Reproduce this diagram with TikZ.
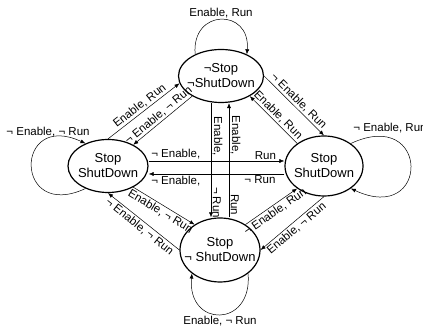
\documentclass[tikz,border=0pt]{standalone}
\usepackage{fontspec}
\setmainfont{Liberation Sans}
\usetikzlibrary{arrows.meta}
\usetikzlibrary{shapes.geometric}
\tikzset{>={Latex[length=5pt,width=4pt]}}
\tikzset{state/.style={ellipse,draw,line width=1.2pt,inner sep=0pt},
  statetext/.style={align=center,font=\fontsize{13}{15}\selectfont},
  lbl/.style={font=\fontsize{11.5}{13}\selectfont,inner sep=1.5pt},
  vlbl/.style={lbl,rotate=-90,anchor=south}}

\begin{document}
\begin{tikzpicture}[x=1pt,y=1pt,line width=0.5pt]
\useasboundingbox (0,0) rectangle (423,326);

\node (T) at (221,250) [state,minimum width=85pt,minimum height=53pt,label={[statetext]center:{¬Stop\\¬ShutDown}}] {};
\node (L) at (108,160) [state,minimum width=80pt,minimum height=53pt,label={[statetext]center:{Stop\\ShutDown}}] {};
\node (R) at (324,160) [state,minimum width=78pt,minimum height=60pt,label={[statetext]center:{Stop\\ShutDown}}] {};
\node (B) at (220,76) [state,minimum width=80pt,minimum height=64pt,label={[statetext]center:{Stop\\¬ ShutDown}}] {};

\coordinate (hu) at (0,165);
\coordinate (hl) at (0,152);
\coordinate (vl) at (211,0);
\coordinate (vr) at (229,0);

\draw [->] (T.140) to[out=95,in=85,looseness=2.3] node[lbl,above] (lT) {Enable, Run} (T.40);
\draw [->] (L.225) to[out=205,in=155,looseness=4.5] (L.135);
\node (lL) at (48,194) [lbl] {¬ Enable, ¬ Run};
\draw [->] (R.40) to[out=25,in=-25,looseness=5] (R.-40);
\node (lR) at (390,198) [lbl] {¬ Enable, Run};
\draw [->] (B.-40) to[out=-85,in=-95,looseness=2.5] node[lbl,below] (lB) {Enable, ¬ Run} (B.220);

\draw [->] (L.north) -- node[lbl,above,sloped] (tl1) {Enable, Run} (T.190);
\draw [->] (T.215) -- node[lbl,above,sloped] (tl2) {¬ Enable, ¬ Run} (L.40);
\draw [->] (T.east) -- node[lbl,above,sloped] (tr1) {¬ Enable, Run} (R.north);
\draw [->] (R.140) -- node[lbl,above,sloped] (tr2) {Enable, Run} (T.325);
\draw [->] (L.320) -- node[lbl,below,sloped] (bl1) {Enable, ¬ Run} (B.135);
\draw [->] (B.west) -- node[lbl,below,sloped] (bl2) {¬ Enable, ¬ Run} (L.south);
\draw [->] (B.45) -- node[lbl,below,sloped] (br1) {¬ Enable, Run} (R.220);
\draw [->] (R.south) -- node[lbl,below,sloped] (br2) {Enable, ¬ Run} (B.east);

\draw [->] (L.east |- hu) -- node[lbl,above,pos=0.2] (h1a) {¬ Enable,} node[lbl,above,pos=0.86] (h1b) {Run} (R.west |- hu);
\draw [->] (R.west |- hl) -- node[lbl,below,pos=0.18] (h2a) {¬ Run} node[lbl,below,pos=0.8] (h2b) {¬ Enable,} (L.east |- hl);
\draw [->] (vl |- T.south) -- node[vlbl,pos=0.29] (v1a) {Enable,} node[vlbl,pos=0.87] (v1b) {¬ Run} (vl |- B.north);
\draw [->] (vr |- B.north) -- node[vlbl,pos=0.11] (v2a) {Run} node[vlbl,pos=0.72] (v2b) {Enable,} (vr |- T.south);

\end{tikzpicture}
\end{document}
